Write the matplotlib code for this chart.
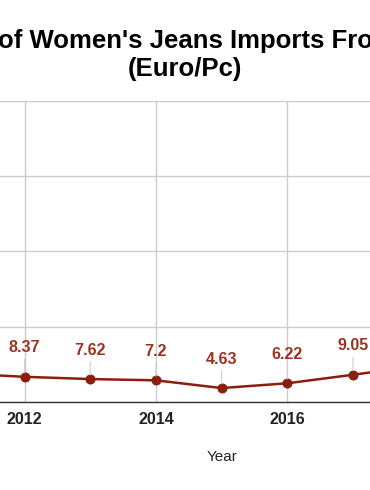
import matplotlib
matplotlib.use("Agg")
import matplotlib.pyplot as plt

plt.rcParams["font.family"] = ["Liberation Sans", "DejaVu Sans"]

# values (2011 and 2018 are only partly visible, estimated)
years = [2011, 2012, 2013, 2014, 2015, 2016, 2017, 2018]
prices = [9.5, 8.37, 7.62, 7.2, 4.63, 6.22, 9.05, 12.0]
labelled = [2012, 2013, 2014, 2015, 2016, 2017]
x_ticks = [2012, 2014, 2016, 2018]
y_ticks = [0, 25, 50, 75, 100]

title = "Average Price of Women's Jeans Imports From Bangladesh\n(Euro/Pc)"
line_col = "#8c1e0e"
label_col = "#9a3322"

W, H = 370, 490
fig = plt.figure(figsize=(W / 100, H / 100), dpi=100)

# the picture is a crop of a wider chart, so the axes run past both edges
x_left, x_right = 2010.5, 2019.5
px_per_year = 65.7
left_px = 24.5 - (2012 - x_left) * px_per_year
width_px = (x_right - x_left) * px_per_year
bottom_px, top_px = 402, 101
ax = fig.add_axes([left_px / W, (H - bottom_px) / H, width_px / W, (bottom_px - top_px) / H])

ax.plot(years, prices, color=line_col, lw=1.8, marker="o", ms=6.2, zorder=3, clip_on=False)

for yr, val in zip(years, prices):
    if yr not in labelled:
        continue
    ax.annotate(f"{val:g}", xy=(yr, val), xytext=(0, 29), textcoords="offset pixels",
                ha="center", va="center", fontsize=11.6, fontweight="bold", color=label_col,
                arrowprops=dict(arrowstyle="-", color="#d0d0d0", lw=0.8, shrinkA=1, shrinkB=3),
                zorder=4)

ax.set_xticks(x_ticks)
ax.set_yticks(y_ticks)
ax.set_yticklabels([])
ax.set_xlim(x_left, x_right)
ax.set_ylim(0, 100)
ax.grid(True, color="#cccccc", lw=1.0, zorder=0)
ax.set_axisbelow(True)
for side in ["left", "right", "top"]:
    ax.spines[side].set_visible(False)
ax.spines["bottom"].set_color("#333333")
ax.spines["bottom"].set_linewidth(1.0)
ax.tick_params(axis="both", length=0)
ax.tick_params(axis="x", pad=7, labelsize=11.6, labelcolor="#222222")
for lab in ax.get_xticklabels():
    lab.set_fontweight("bold")

fig.text(222 / W, 1 - 457 / H, "Year", ha="center", va="center", fontsize=11, color="#222222")
fig.text(185 / W, 1 - 55 / H, title, ha="center", va="center", fontsize=18.5,
         fontweight="bold", color="#000000", linespacing=1.22)

fig.savefig("out.png", dpi=100)
